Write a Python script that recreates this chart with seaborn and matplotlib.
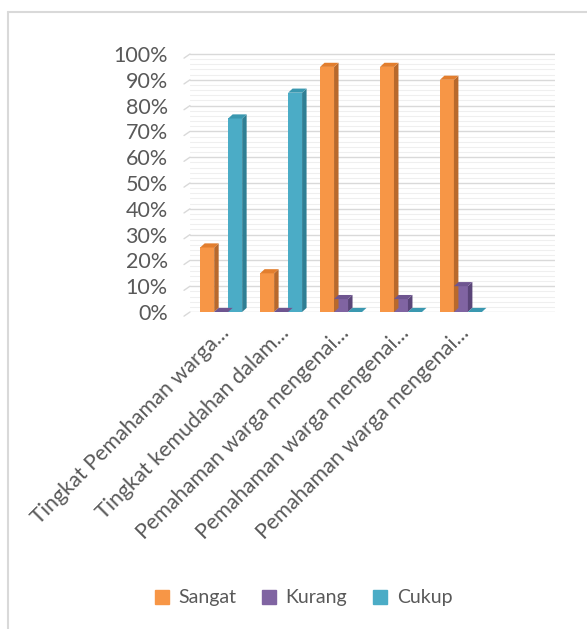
import matplotlib
matplotlib.use("Agg")
import matplotlib.pyplot as plt
import matplotlib.transforms as mtransforms
from matplotlib.patches import Polygon
from matplotlib.lines import Line2D
import seaborn as sns
import pandas as pd
import numpy as np

categories = [
    "Tingkat Pemahaman warga...",
    "Tingkat kemudahan dalam...",
    "Pemahaman warga mengenai...",
    "Pemahaman warga mengenai... ",
    "Pemahaman warga mengenai...  ",
]
series = ["Sangat", "Kurang", "Cukup"]
sangat = [25, 15, 95, 95, 90]
kurang = [0, 0, 5, 5, 10]
cukup = [75, 85, 0, 0, 0]
yticks = [0, 10, 20, 30, 40, 50, 60, 70, 80, 90, 100]

colors = {"Sangat": "#F79646", "Kurang": "#8064A2", "Cukup": "#4BACC6"}
side_colors = {"Sangat": "#B8692C", "Kurang": "#5A4578", "Cukup": "#2F7F94"}
top_colors = {"Sangat": "#E27E2E", "Kurang": "#6E5590", "Cukup": "#3A98B0"}

rows = []
for i, c in enumerate(categories):
    rows.append((c, "Sangat", sangat[i]))
    rows.append((c, "Kurang", kurang[i]))
    rows.append((c, "Cukup", cukup[i]))
df = pd.DataFrame(rows, columns=["cat", "series", "value"])

sns.set_style("white")
plt.rcParams["font.family"] = ["Lato", "DejaVu Sans"]

fig = plt.figure(figsize=(5.87, 6.29), dpi=100)
ax = fig.add_axes([190 / 587, 1 - 312 / 629, (555 - 190) / 587, (312 - 50) / 629])

sns.barplot(data=df, x="cat", y="value", hue="series", hue_order=series,
            order=categories, palette=colors, width=0.7, saturation=1,
            legend=False, ax=ax, zorder=3, linewidth=0)

ax.set_xlim(-0.52, 5.57)
ax.set_ylim(0, 101.55)

# 3D-like side and top faces derived from the drawn bars
dx = 0.075
dy = 1.6
for j, s in enumerate(series):
    cont = ax.containers[j]
    for p in cont.patches:
        x0 = p.get_x()
        w = p.get_width()
        h = p.get_height()
        side = Polygon([(x0 + w, 0), (x0 + w + dx, dy), (x0 + w + dx, h + dy), (x0 + w, h)],
                       closed=True, facecolor=side_colors[s], edgecolor="none", zorder=3)
        top = Polygon([(x0, h), (x0 + dx, h + dy), (x0 + w + dx, h + dy), (x0 + w, h)],
                      closed=True, facecolor=top_colors[s], edgecolor="none", zorder=3)
        ax.add_patch(side)
        ax.add_patch(top)

# gridlines
ax.set_yticks(yticks)
ax.set_yticks(np.arange(0, 101, 2), minor=True)
ax.yaxis.grid(True, which="major", color="#D9D9D9", linewidth=1.0, zorder=0)
ax.yaxis.grid(True, which="minor", color="#EFEFEF", linewidth=0.8, zorder=0)
ax.set_axisbelow(True)
for sp in ax.spines.values():
    sp.set_visible(False)

# perspective stubs at the left of the back wall
for v in yticks:
    ax.plot([-0.52, -0.62], [v, v - 1.6], color="#D9D9D9", linewidth=1.0,
            clip_on=False, zorder=0)

ax.set_yticklabels([f"{v}%" for v in yticks], color="#595959", fontsize=15.5)
ax.tick_params(axis="y", which="both", length=0, pad=16)
ax.tick_params(axis="x", length=0, pad=2)
ax.set_xticks(range(len(categories)))
ax.set_xticklabels([c.strip() for c in categories], rotation=45, ha="right",
                   rotation_mode="anchor", color="#595959", fontsize=15.5)
offset = mtransforms.ScaledTranslation(-0.02, -0.08, fig.dpi_scale_trans)
for lab in ax.get_xticklabels():
    lab.set_transform(lab.get_transform() + offset)
ax.set_xlabel("")
ax.set_ylabel("")

# legend
handles = [Line2D([], [], marker="s", linestyle="none", markersize=9.5,
                  markerfacecolor=colors[s], markeredgecolor=colors[s], label=s)
           for s in series]
fig.legend(handles=handles, loc="center", bbox_to_anchor=(0.518, 1 - 598 / 629),
           ncol=3, frameon=False, fontsize=14, handlelength=0.6, handletextpad=0.55,
           columnspacing=1.4, labelcolor="#595959")

# chart border (partially visible)
fig.add_artist(Line2D([8 / 587, 8 / 587], [0, 1 - 12 / 629], transform=fig.transFigure,
                      color="#D9D9D9", linewidth=1.5))
fig.add_artist(Line2D([8 / 587, 1], [1 - 12 / 629, 1 - 12 / 629], transform=fig.transFigure,
                      color="#D9D9D9", linewidth=1.5))

fig.savefig("out.png", dpi=100)
